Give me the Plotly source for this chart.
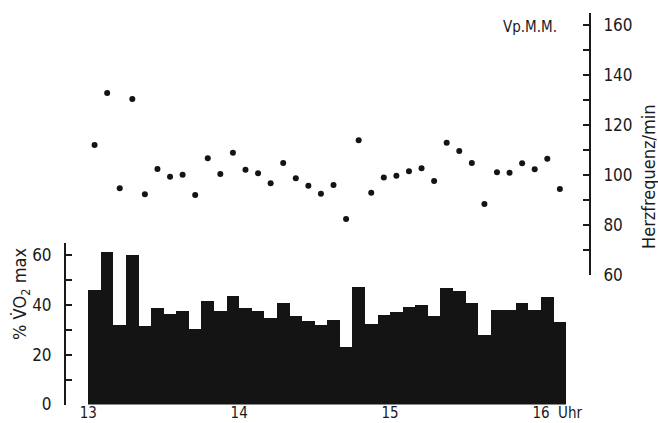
import plotly.graph_objects as go

# --- data (5-minute intervals starting 13:00) ---
vo2_pct = [46.2, 61.3, 32.2, 60.2, 31.5, 38.9, 36.5, 37.8, 30.5, 41.5,
           37.8, 43.8, 38.9, 37.8, 34.9, 40.9, 35.8, 33.8, 31.9, 33.9,
           23.1, 47.3, 32.5, 36.2, 37.4, 39.4, 40.1, 35.8, 46.9, 45.5,
           40.9, 27.8, 37.9, 37.9, 40.9, 38.1, 43.1, 33.3]
heart_rate = [112.0, 132.8, 94.7, 130.4, 92.3, 102.4, 99.3, 100.1, 92.0, 106.7,
              100.4, 108.9, 102.1, 100.7, 96.7, 104.8, 98.7, 95.7, 92.5, 96.0,
              82.4, 113.9, 92.9, 99.0, 99.7, 101.5, 102.7, 97.6, 112.9, 109.6,
              104.8, 88.4, 101.1, 100.9, 104.7, 102.3, 106.5, 94.4]
start_hour = 13
interval_min = 5
hour_ticks = [13, 14, 15, 16]
hour_labels = ["13", "14", "15", "16"]

times = [start_hour + (i + 0.5) * interval_min / 60 for i in range(len(vo2_pct))]

W, H = 658, 423
FONT = "DejaVu Sans Condensed, Liberation Sans, sans-serif"
INK = "#1a1a1a"

def px_x(p):
    return p / W

def px_y(p):
    return (H - p) / H

fig = go.Figure()
fig.add_trace(go.Bar(x=times, y=vo2_pct, width=interval_min / 60,
                     marker=dict(color="#141414", line=dict(width=0)),
                     xaxis="x", yaxis="y", showlegend=False))
fig.add_trace(go.Scatter(x=times, y=heart_rate, mode="markers",
                         marker=dict(color="#141414", size=6),
                         xaxis="x", yaxis="y2", showlegend=False))

# x scale: 13:00 at px 88.3, 150.9 px per hour, domain px 66..590
ppH = 150.9
x0 = 13 - (88.3 - 66) / ppH
x1 = 13 + (590 - 88.3) / ppH

fig.update_layout(
    width=W, height=H,
    margin=dict(l=0, r=0, t=0, b=0, autoexpand=False),
    paper_bgcolor="white", plot_bgcolor="rgba(0,0,0,0)",
    font=dict(family=FONT, color=INK, size=17),
    bargap=0,
    xaxis=dict(domain=[px_x(66), px_x(590)], range=[x0, x1],
               tickvals=hour_ticks, ticktext=hour_labels,
               showline=False, showgrid=False, zeroline=False, ticks="",
               ticklabelstandoff=-3, tickfont=dict(size=15),
               automargin=False, anchor="y"),
    yaxis=dict(domain=[px_y(404.5), px_y(243)], range=[0, 65],
               tickvals=[0, 20, 40, 60], showgrid=False, zeroline=False,
               showline=True, linecolor=INK, linewidth=2,
               ticks="inside", ticklen=6, tickwidth=1.5, tickcolor=INK,
               minor=dict(dtick=10, tick0=0, ticks="inside", ticklen=6,
                          tickwidth=1.5, tickcolor=INK),
               ticklabelstandoff=9, tickfont=dict(size=17),
               automargin=False, anchor="x", side="left"),
    yaxis2=dict(domain=[px_y(275), px_y(13.3)], range=[60, 164.7],
                tickvals=[60, 80, 100, 120, 140, 160], showgrid=False,
                zeroline=False, showline=True, linecolor=INK, linewidth=2,
                ticks="inside", ticklen=6, tickwidth=1.5, tickcolor=INK,
                minor=dict(dtick=10, tick0=60, ticks="inside", ticklen=6,
                           tickwidth=1.5, tickcolor=INK),
                ticklabelstandoff=9, tickfont=dict(size=17),
                automargin=False, anchor="free", position=px_x(590),
                side="right"),
)

fig.add_annotation(text="% V\u0307O<sub>2</sub> max", textangle=-90,
                   xref="paper", yref="paper", x=px_x(21), y=px_y(294),
                   showarrow=False, font=dict(size=18, family=FONT, color=INK),
                   xanchor="center", yanchor="middle")
fig.add_annotation(text="Herzfrequenz/min", textangle=-90,
                   xref="paper", yref="paper", x=px_x(648), y=px_y(177),
                   showarrow=False, font=dict(size=18, family=FONT, color=INK),
                   xanchor="center", yanchor="middle")
fig.add_annotation(text="Vp.M.M.", xref="paper", yref="paper",
                   x=px_x(530), y=px_y(27), showarrow=False,
                   font=dict(size=15, family=FONT, color=INK),
                   xanchor="center", yanchor="middle")
fig.add_annotation(text="Uhr", xref="paper", yref="paper",
                   x=px_x(570), y=px_y(413), showarrow=False,
                   font=dict(size=15, family=FONT, color=INK),
                   xanchor="center", yanchor="middle")

fig.write_html("out.html")
